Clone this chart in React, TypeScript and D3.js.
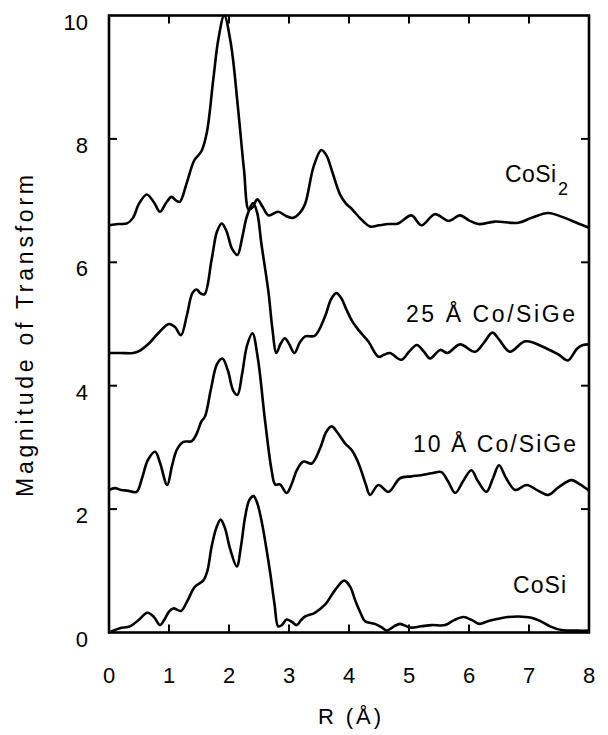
import React from 'react';
import * as d3 from 'd3';

type Pt = [number, number];

// R (Å), magnitude
const cosi2: Pt[] = [
  [0, 6.6], [0.15, 6.62], [0.3, 6.63], [0.4, 6.72], [0.5, 6.95], [0.63, 7.1], [0.75, 6.97],
  [0.85, 6.82], [0.95, 6.96], [1.04, 7.06], [1.12, 7.0], [1.18, 6.98], [1.3, 7.3], [1.42, 7.65],
  [1.54, 7.8], [1.63, 8.1], [1.74, 8.98], [1.82, 9.6], [1.92, 10.0], [2.03, 9.55], [2.15, 8.5],
  [2.25, 7.5], [2.33, 6.85], [2.4, 6.9], [2.47, 7.02], [2.56, 6.9], [2.66, 6.76], [2.82, 6.82],
  [2.95, 6.75], [3.07, 6.72], [3.18, 6.8], [3.27, 6.95], [3.41, 7.55], [3.54, 7.82], [3.63, 7.72],
  [3.71, 7.5], [3.85, 7.1], [3.95, 6.95], [4.05, 6.86], [4.2, 6.7], [4.35, 6.58], [4.5, 6.6],
  [4.66, 6.62], [4.82, 6.63], [5.04, 6.76], [5.21, 6.6], [5.43, 6.78], [5.66, 6.67], [5.85, 6.76],
  [6.0, 6.68], [6.16, 6.62], [6.43, 6.66], [6.82, 6.64], [7.04, 6.72], [7.32, 6.8], [7.54, 6.74],
  [7.82, 6.63], [8.0, 6.56],
];

const co25: Pt[] = [
  [0, 4.53], [0.2, 4.53], [0.4, 4.53], [0.5, 4.56], [0.66, 4.68], [0.82, 4.85], [1.0, 5.0],
  [1.1, 4.95], [1.2, 4.82], [1.3, 5.15], [1.39, 5.5], [1.46, 5.56], [1.52, 5.5], [1.59, 5.48],
  [1.71, 6.04], [1.8, 6.5], [1.88, 6.63], [1.96, 6.5], [2.05, 6.22], [2.14, 6.12], [2.22, 6.4],
  [2.3, 6.75], [2.4, 6.96], [2.47, 6.8], [2.54, 6.3], [2.66, 5.5], [2.72, 4.95], [2.79, 4.53],
  [2.86, 4.68], [2.93, 4.77], [3.0, 4.68], [3.09, 4.53], [3.18, 4.7], [3.27, 4.8], [3.43, 4.81],
  [3.6, 5.12], [3.7, 5.4], [3.79, 5.5], [3.87, 5.42], [3.95, 5.25], [4.05, 5.05], [4.16, 4.9],
  [4.32, 4.72], [4.49, 4.47], [4.58, 4.5], [4.68, 4.53], [4.87, 4.42], [5.0, 4.55], [5.13, 4.66],
  [5.25, 4.55], [5.35, 4.44], [5.52, 4.58], [5.64, 4.53], [5.85, 4.67], [6.1, 4.55], [6.25, 4.7],
  [6.39, 4.86], [6.5, 4.75], [6.68, 4.55], [6.94, 4.72], [7.3, 4.6], [7.5, 4.5], [7.65, 4.41],
  [7.8, 4.6], [7.9, 4.66], [8.0, 4.67],
];

const co10: Pt[] = [
  [0, 2.31], [0.1, 2.34], [0.2, 2.31], [0.3, 2.3], [0.46, 2.28], [0.55, 2.5], [0.65, 2.8],
  [0.77, 2.93], [0.85, 2.75], [0.97, 2.39], [1.05, 2.7], [1.13, 2.96], [1.24, 3.09], [1.38, 3.1],
  [1.46, 3.22], [1.54, 3.42], [1.6, 3.5], [1.7, 3.95], [1.8, 4.35], [1.89, 4.44], [1.98, 4.25],
  [2.07, 3.92], [2.14, 3.85], [2.22, 4.2], [2.3, 4.65], [2.39, 4.85], [2.48, 4.45], [2.6, 3.44],
  [2.71, 2.63], [2.77, 2.4], [2.85, 2.4], [2.96, 2.26], [3.05, 2.42], [3.13, 2.63], [3.24, 2.77],
  [3.38, 2.74], [3.52, 2.99], [3.62, 3.25], [3.71, 3.34], [3.8, 3.25], [3.93, 3.07], [4.05, 2.95],
  [4.16, 2.74], [4.28, 2.4], [4.35, 2.23], [4.49, 2.39], [4.66, 2.28], [4.85, 2.5], [5.04, 2.53],
  [5.2, 2.55], [5.38, 2.58], [5.54, 2.6], [5.65, 2.45], [5.77, 2.26], [5.9, 2.45], [6.04, 2.63],
  [6.15, 2.45], [6.29, 2.28], [6.4, 2.5], [6.5, 2.71], [6.62, 2.5], [6.77, 2.31], [6.96, 2.39],
  [7.15, 2.3], [7.32, 2.23], [7.5, 2.36], [7.71, 2.47], [7.85, 2.4], [8.0, 2.3],
];

const cosi: Pt[] = [
  [0, 0], [0.05, 0.02], [0.18, 0.07], [0.35, 0.1], [0.49, 0.2], [0.64, 0.32], [0.75, 0.25],
  [0.85, 0.12], [0.93, 0.22], [1.0, 0.34], [1.07, 0.39], [1.2, 0.35], [1.3, 0.5], [1.43, 0.74],
  [1.57, 0.84], [1.64, 1.0], [1.71, 1.39], [1.79, 1.7], [1.86, 1.83], [1.93, 1.7], [2.02, 1.35],
  [2.13, 1.07], [2.2, 1.4], [2.27, 1.88], [2.34, 2.15], [2.41, 2.21], [2.47, 2.1], [2.54, 1.82],
  [2.68, 1.01], [2.76, 0.45], [2.82, 0.1], [2.88, 0.12], [2.96, 0.21], [3.05, 0.17], [3.13, 0.12],
  [3.2, 0.2], [3.27, 0.26], [3.43, 0.32], [3.6, 0.45], [3.77, 0.69], [3.92, 0.84], [4.02, 0.74],
  [4.1, 0.53], [4.2, 0.3], [4.27, 0.18], [4.43, 0.14], [4.55, 0.08], [4.63, 0.03], [4.75, 0.1],
  [4.85, 0.14], [5.02, 0.08], [5.2, 0.1], [5.38, 0.12], [5.6, 0.12], [5.75, 0.2], [5.91, 0.25],
  [6.05, 0.2], [6.18, 0.14], [6.3, 0.18], [6.43, 0.21], [6.65, 0.25], [6.82, 0.26], [7.04, 0.24],
  [7.2, 0.18], [7.35, 0.1], [7.54, 0.04], [7.82, 0.03], [8.0, 0.03],
];

const xTicks = [0, 1, 2, 3, 4, 5, 6, 7, 8];
const yTicks = [0, 2, 4, 6, 8, 10];

const series = [cosi2, co25, co10, cosi];

const W = 608;
const H = 735;
const FONT = '"Liberation Sans", Arial, Helvetica, sans-serif';

export default function App() {
  const x = d3.scaleLinear().domain([0, 8]).range([109, 589]);
  const y = d3.scaleLinear().domain([0, 10]).range([632.5, 15.5]);

  const line = d3
    .line<Pt>()
    .x((d) => x(d[0]))
    .y((d) => y(d[1]))
    .curve(d3.curveCatmullRom.alpha(0.5));

  const [x0, x1] = x.range();
  const [y0, y1] = y.range();
  const tick = 8;

  return (
    <svg
      width={W}
      height={H}
      style={{ position: 'absolute', left: 0, top: 0, background: '#fff' }}
      fontFamily={FONT}
    >
      {/* curves */}
      {series.map((s, i) => (
        <path key={i} d={line(s) || ''} fill="none" stroke="#000" strokeWidth={2.6} strokeLinejoin="round" />
      ))}

      {/* ticks, inward on all sides */}
      {xTicks.slice(1, -1).map((t) => (
        <g key={'xt' + t} stroke="#000" strokeWidth={2}>
          <line x1={x(t)} x2={x(t)} y1={y0} y2={y0 - tick} />
          <line x1={x(t)} x2={x(t)} y1={y1} y2={y1 + tick} />
        </g>
      ))}
      {yTicks.slice(1, -1).map((t) => (
        <g key={'yt' + t} stroke="#000" strokeWidth={2}>
          <line x1={x0} x2={x0 + tick} y1={y(t)} y2={y(t)} />
          <line x1={x1} x2={x1 - tick} y1={y(t)} y2={y(t)} />
        </g>
      ))}

      {/* frame */}
      <rect x={x0} y={y1} width={x1 - x0} height={y0 - y1} fill="none" stroke="#000" strokeWidth={2.6} />

      {/* tick labels */}
      {xTicks.map((t) => (
        <text key={'xl' + t} x={x(t)} y={683} textAnchor="middle" fontSize={22}>
          {t}
        </text>
      ))}
      {yTicks.map((t) => (
        <text key={'yl' + t} x={88} y={y(t) + 14} textAnchor="end" fontSize={22}>
          {t}
        </text>
      ))}

      {/* axis titles */}
      <text x={318} y={724} fontSize={22} textLength={63} lengthAdjust="spacing">
        R (Å)
      </text>
      <text
        transform="translate(33,497) rotate(-90)"
        fontSize={23}
        textLength={322}
        lengthAdjust="spacing"
      >
        Magnitude of Transform
      </text>

      {/* curve labels */}
      <text x={505} y={182} fontSize={23} textLength={51} lengthAdjust="spacing">
        CoSi
      </text>
      <text x={558} y={195} fontSize={18}>
        2
      </text>
      <text x={406} y={322} fontSize={23} textLength={169} lengthAdjust="spacing">
        25 Å Co/SiGe
      </text>
      <text x={413} y={452} fontSize={23} textLength={163} lengthAdjust="spacing">
        10 Å Co/SiGe
      </text>
      <text x={513} y={593} fontSize={23} textLength={53} lengthAdjust="spacing">
        CoSi
      </text>
    </svg>
  );
}
